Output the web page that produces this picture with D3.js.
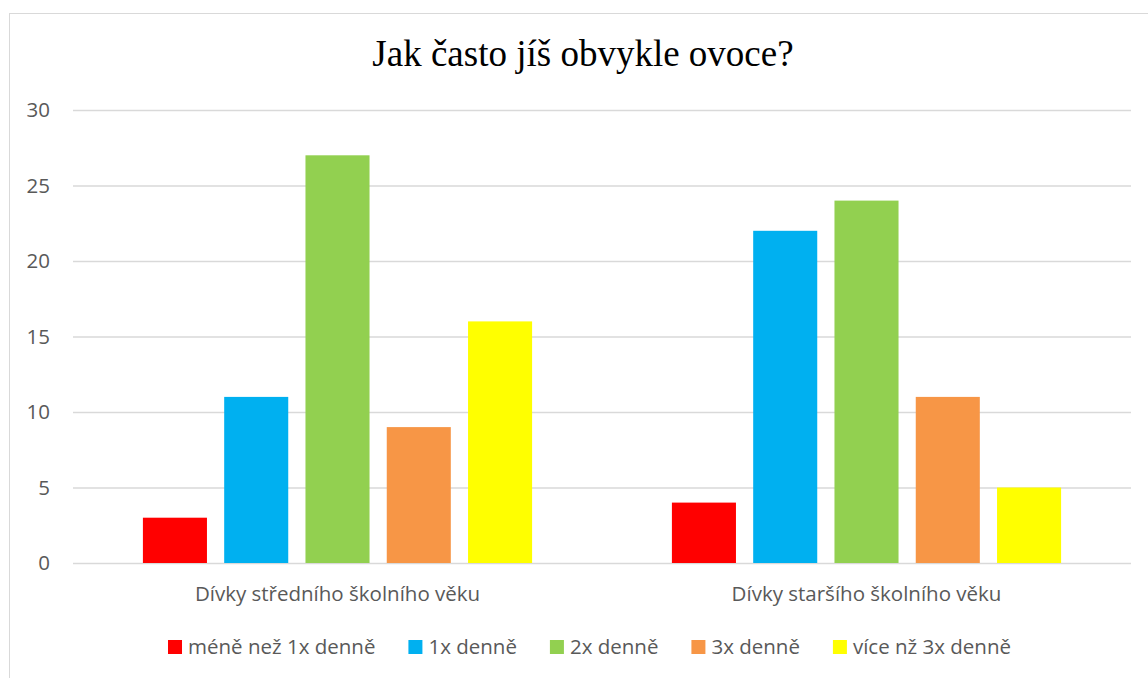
<!DOCTYPE html>
<html>
<head>
<meta charset="utf-8">
<script src="https://cdn.jsdelivr.net/npm/d3@7"></script>
<style>
  body { margin: 0; background: #fff; }
  svg { display: block; }
</style>
</head>
<body>
<svg id="chart" width="1148" height="678"></svg>
<script>
(function () {

    let categories = ["Dívky středního školního věku", "Dívky staršího školního věku"];
    let series = ["méně než 1x denně", "1x denně", "2x denně", "3x denně", "více nž 3x denně"];
    let colors = ["#FF0000", "#00B0F0", "#92D050", "#F79646", "#FFFF00"];
    let values = [
        [3, 11, 27, 9, 16],
        [4, 22, 24, 11, 5]
    ];
    let yTicks = [0, 5, 10, 15, 20, 25, 30];
    let title = "Jak často jíš obvykle ovoce?";

    let svg = d3.select("#chart");
    let margin = { top: 110, right: 17, bottom: 115, left: 73 };
    let width = +svg.attr("width");
    let height = +svg.attr("height");
    let font = "'Open Sans', 'Noto Sans', sans-serif";
    let fontSize = 20.5;

    // outer frame of the chart
    svg.append("rect")
        .attr("x", 9.5)
        .attr("y", 13.5)
        .attr("width", 1150)
        .attr("height", 700)
        .attr("fill", "none")
        .attr("stroke", "#d9d9d9")
        .attr("stroke-width", 1);

    svg.append("text")
        .attr("x", 583)
        .attr("y", 66)
        .attr("text-anchor", "middle")
        .attr("font-family", "'Liberation Serif', 'Times New Roman', serif")
        .attr("font-size", 37)
        .attr("fill", "#000")
        .text(title);

    let x0 = d3.scaleBand()
        .domain(categories)
        .range([margin.left, width - margin.right]);

    let x1 = d3.scaleBand()
        .domain(series)
        .range([0, x0.bandwidth()])
        .paddingInner(0.212)
        .paddingOuter(0.86);

    let y = d3.scaleLinear()
        .domain([0, 30])
        .range([height - margin.bottom, margin.top]);

    let yAxis = d3.axisLeft(y)
        .tickValues(yTicks)
        .tickSize(-(width - margin.left - margin.right))
        .tickPadding(23);

    let gy = svg.append("g")
        .attr("transform", `translate(${margin.left},0)`)
        .call(yAxis);
    gy.select(".domain").remove();
    gy.selectAll(".tick line").attr("stroke", "#d9d9d9").attr("stroke-width", 1.5);
    gy.selectAll(".tick text")
        .attr("font-family", font)
        .attr("font-size", fontSize)
        .attr("fill", "#595959");

    let groups = svg.append("g").selectAll("g")
        .data(values)
        .join("g")
        .attr("transform", (d, i) => `translate(${x0(categories[i])},0)`);

    groups.selectAll("rect")
        .data(d => d.map((v, j) => ({ key: series[j], value: v, color: colors[j] })))
        .join("rect")
        .attr("x", d => x1(d.key))
        .attr("y", d => y(d.value))
        .attr("width", x1.bandwidth())
        .attr("height", d => y(0) - y(d.value))
        .attr("fill", d => d.color);

    let xAxis = d3.axisBottom(x0).tickSize(0).tickPadding(23);
    let gx = svg.append("g")
        .attr("transform", `translate(0,${height - margin.bottom})`)
        .call(xAxis);
    gx.select(".domain").remove();
    gx.selectAll(".tick text")
        .attr("font-family", font)
        .attr("font-size", fontSize)
        .attr("fill", "#595959");

    // legend laid out left to right, then centred
    let legend = svg.append("g");
    let items = legend.selectAll("g")
        .data(series)
        .join("g");
    items.append("rect")
        .attr("y", -7)
        .attr("width", 14)
        .attr("height", 14)
        .attr("fill", (d, i) => colors[i]);
    items.append("text")
        .attr("x", 20)
        .attr("dy", "0.35em")
        .attr("font-family", font)
        .attr("font-size", fontSize)
        .attr("fill", "#595959")
        .text(d => d);

    let gap = 33;
    let pos = 0;
    items.each(function () {
        let w = this.getBBox().width;
        d3.select(this).attr("transform", `translate(${pos},0)`);
        pos += w + gap;
    });
    let total = pos - gap;
    legend.attr("transform", `translate(${589.5 - total / 2},647)`);

})();
</script>
</body>
</html>
